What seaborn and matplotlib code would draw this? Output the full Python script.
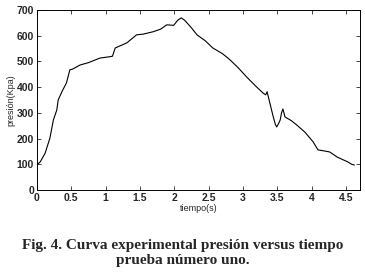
import matplotlib
matplotlib.use('Agg')
import matplotlib.pyplot as plt
import seaborn as sns
import pandas as pd

# curve
tiempo = [0.00, 0.05, 0.12, 0.19, 0.24, 0.29, 0.31, 0.37, 0.43, 0.48, 0.52, 0.63, 0.75,
          0.92, 1.06, 1.10, 1.14, 1.31, 1.45, 1.55, 1.69, 1.80, 1.89, 1.99, 2.05, 2.10,
          2.15, 2.25, 2.33, 2.45, 2.56, 2.70, 2.81, 2.93, 3.05, 3.18, 3.29, 3.33, 3.35,
          3.37, 3.39, 3.44, 3.47, 3.49, 3.52, 3.54, 3.56, 3.58, 3.61, 3.70, 3.78, 3.90,
          4.02, 4.09, 4.18, 4.26, 4.37, 4.46, 4.52, 4.58, 4.62]
presion = [97, 110, 143, 202, 272, 311, 350, 385, 416, 467, 470, 486, 495,
           513, 518, 520, 552, 572, 603, 606, 615, 625, 642, 640, 660, 669,
           660, 630, 603, 580, 552, 530, 506, 475, 440, 405, 377, 370, 382,
           360, 338, 284, 255, 245, 260, 272, 300, 315, 284, 270, 253, 225,
           187, 156, 152, 148, 128, 117, 110, 100, 97]

xticks = [0, 0.5, 1, 1.5, 2, 2.5, 3, 3.5, 4, 4.5]
xticklabels = ['0', '0.5', '1', '1.5', '2', '2.5', '3', '3.5', '4', '4.5']
yticks = [0, 100, 200, 300, 400, 500, 600, 700]

df = pd.DataFrame({'tiempo': tiempo, 'presion': presion})

sns.set_style('ticks')
plt.rcParams['font.family'] = ['Liberation Sans', 'DejaVu Sans']

fig = plt.figure(figsize=(3.65, 2.75), dpi=100)
ax = fig.add_axes([0.101, 0.309, 0.885, 0.655])
sns.lineplot(data=df, x='tiempo', y='presion', ax=ax, color='black', linewidth=0.8)

ax.set_xlim(0, 4.7)
ax.set_ylim(0, 700)
ax.set_xticks(xticks)
ax.set_xticklabels(xticklabels)
ax.set_yticks(yticks)
ax.tick_params(direction='in', length=3, width=0.6, top=True, right=True,
               labelsize=7.5, pad=2)
for lbl in ax.get_xticklabels() + ax.get_yticklabels():
    lbl.set_fontweight('bold')
for sp in ax.spines.values():
    sp.set_visible(True)
    sp.set_linewidth(0.7)
    sp.set_color('black')

ax.set_xlabel('tiempo(s)', fontsize=6.5, labelpad=1)
ax.set_ylabel('presión(Kpa)', fontsize=6.5, labelpad=1)

fig.text(0.5, 0.08, 'Fig. 4. Curva experimental presión versus tiempo\nprueba número uno.',
         ha='center', va='center', fontsize=11, fontweight='bold',
         family=['Liberation Serif', 'DejaVu Serif'], linespacing=1.15)

fig.savefig('out.png', dpi=100)
plt.close()
